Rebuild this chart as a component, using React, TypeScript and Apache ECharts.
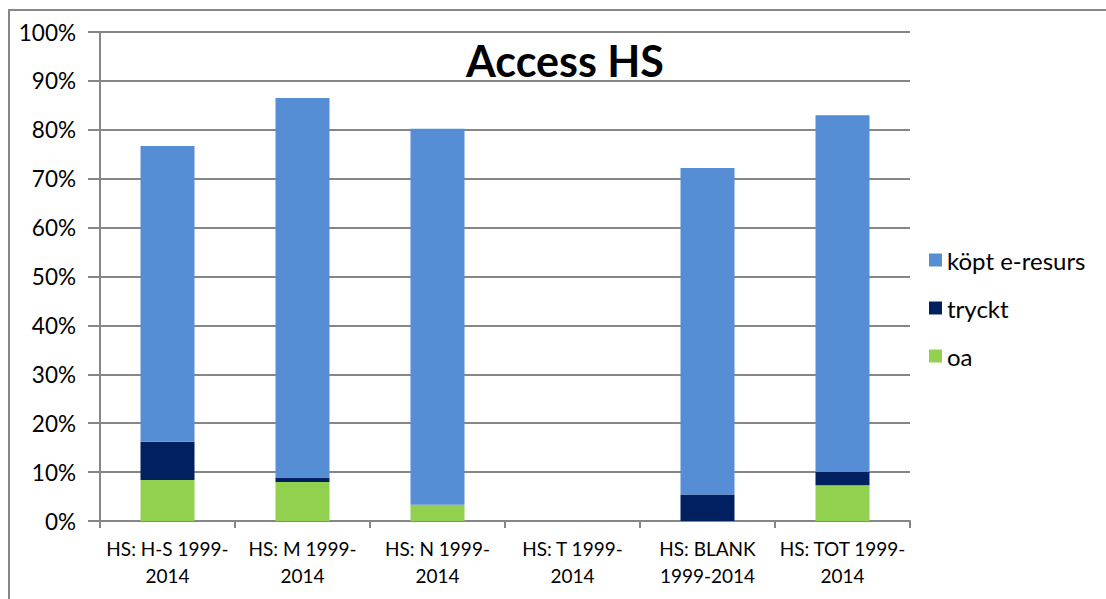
import React, { useEffect, useRef } from "react";
import * as echarts from "echarts";

const categories = [
  "HS: H-S 1999-\n2014",
  "HS: M 1999-\n2014",
  "HS: N 1999-\n2014",
  "HS: T 1999-\n2014",
  "HS: BLANK\n1999-2014",
  "HS: TOT 1999-\n2014",
];
const oa = [8.4, 8.0, 3.3, 0, 0, 7.3];
const tryckt = [7.8, 0.9, 0, 0, 5.4, 2.7];
const kopt = [60.5, 77.6, 76.9, 0, 66.8, 73.0];
const yTicks = [0, 10, 20, 30, 40, 50, 60, 70, 80, 90, 100];

const GRAY = "#868686";
const FONT = "Lato, 'Open Sans', sans-serif";

export default function App() {
  const ref = useRef<HTMLDivElement>(null);
  useEffect(() => {
    if (!ref.current) return;
    const chart = echarts.init(ref.current, undefined, { renderer: "svg" });
    chart.setOption({
      animation: false,
      backgroundColor: "#fff",
      textStyle: { fontFamily: FONT },
      graphic: [
        {
          type: "rect",
          shape: { x: 9, y: 10, width: 1300, height: 800 },
          style: { fill: "none", stroke: GRAY, lineWidth: 2 },
          silent: true,
          z: -1,
        },
        {
          type: "text",
          x: 565,
          y: 60,
          style: {
            text: "Access HS",
            fontFamily: FONT,
            fontWeight: "bold",
            fontSize: 43,
            fill: "#000",
            align: "center",
            verticalAlign: "middle",
          },
          z: 10,
        },
      ],
      legend: {
        orient: "vertical",
        left: 924,
        top: 241,
        itemWidth: 13,
        itemHeight: 13,
        itemGap: 20,
        icon: "rect",
        data: ["köpt e-resurs", "tryckt", "oa"],
        textStyle: { fontFamily: FONT, fontSize: 24, color: "#000", lineHeight: 28 },
      },
      grid: { left: 100, right: 196, top: 32, bottom: 78, containLabel: false },
      xAxis: {
        type: "category",
        data: categories,
        axisLine: { lineStyle: { color: GRAY, width: 2 } },
        axisTick: { show: true, length: 7, lineStyle: { color: GRAY, width: 2 } },
        axisLabel: {
          color: "#000",
          fontFamily: FONT,
          fontSize: 19,
          lineHeight: 27,
          margin: 14,
          interval: 0,
        },
      },
      yAxis: {
        type: "value",
        min: 0,
        max: 100,
        interval: 10,
        axisLine: { show: true, lineStyle: { color: GRAY, width: 2 } },
        axisTick: { show: true, length: 12, lineStyle: { color: GRAY, width: 2 } },
        axisLabel: {
          color: "#000",
          fontFamily: FONT,
          fontSize: 22.5,
          margin: 24,
          formatter: (v: number) => (yTicks.includes(v) ? v + "%" : ""),
        },
        splitLine: { lineStyle: { color: GRAY, width: 2 } },
      },
      series: [
        {
          name: "oa",
          type: "bar",
          stack: "a",
          barWidth: "40%",
          data: oa,
          itemStyle: { color: "#92D050" },
        },
        {
          name: "tryckt",
          type: "bar",
          stack: "a",
          barWidth: "40%",
          data: tryckt,
          itemStyle: { color: "#002060" },
        },
        {
          name: "köpt e-resurs",
          type: "bar",
          stack: "a",
          barWidth: "40%",
          data: kopt,
          itemStyle: { color: "#558ED5" },
        },
      ],
    });
    return () => chart.dispose();
  }, []);
  return (
    <div
      ref={ref}
      style={{ position: "fixed", left: 0, top: 0, width: 1106, height: 599 }}
    />
  );
}
